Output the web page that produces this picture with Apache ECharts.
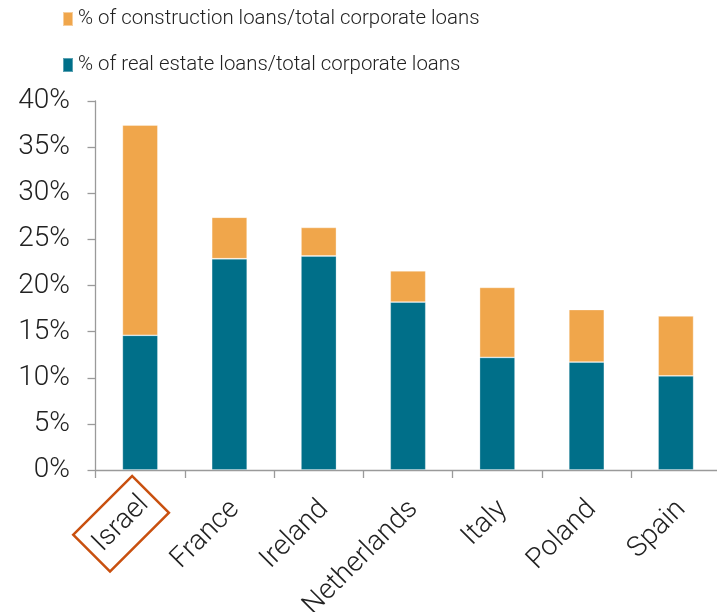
<!DOCTYPE html>
<html>
<head>
<meta charset="utf-8">
<script src="https://cdn.jsdelivr.net/npm/echarts@6/dist/echarts.min.js"></script>
<style>
  html, body { margin: 0; padding: 0; background: #ffffff; }
  #chart { width: 717px; height: 612px; }
</style>
</head>
<body>
<div id="chart"></div>
<script>
// Countries on the category axis
const countries = ['Israel', 'France', 'Ireland', 'Netherlands', 'Italy', 'Poland', 'Spain'];
// Share of real estate loans in total corporate loans (%)
const realEstateShare = [14.6, 22.9, 23.2, 18.2, 12.2, 11.7, 10.2];
// Share of construction loans in total corporate loans (%), stacked on top
const constructionShare = [22.8, 4.5, 3.1, 3.4, 7.6, 5.7, 6.5];
// Value axis ticks
const yTicks = [0, 5, 10, 15, 20, 25, 30, 35, 40];
// Country singled out with a frame around its label
const highlighted = 'Israel';

const seriesNames = {
  construction: '% of construction loans/total corporate loans',
  realEstate: '% of real estate loans/total corporate loans'
};

const FONT = 'Roboto';
const TEXT = '#222222';
const AXIS = '#9a9a9a';
const LABEL_SIZE = 28;

const chart = echarts.init(document.getElementById('chart'), null, { renderer: 'canvas' });

chart.setOption({
  animation: false,
  backgroundColor: '#ffffff',
  legend: {
    orient: 'vertical',
    left: 62,
    top: 7,
    padding: 0,
    itemWidth: 10,
    itemHeight: 14,
    itemGap: 22,
    icon: 'rect',
    data: [seriesNames.construction, seriesNames.realEstate],
    textStyle: { fontFamily: FONT, fontWeight: 300, fontSize: 20.4, lineHeight: 24, color: TEXT }
  },
  grid: {
    left: 95.5, top: 101, width: 625, bottom: 142,
    containLabel: false,
    outerBoundsMode: 'none'
  },
  xAxis: {
    type: 'category',
    data: countries,
    boundaryGap: true,
    axisLine: { lineStyle: { color: AXIS, width: 1.3 } },
    axisTick: { show: true, length: 8, lineStyle: { color: AXIS, width: 1.3 } },
    axisLabel: {
      interval: 0,
      rotate: 45,
      margin: 13.9,
      padding: [29.4, 0, 0, 0],
      fontFamily: FONT,
      fontWeight: 300,
      fontSize: LABEL_SIZE,
      lineHeight: 32,
      color: TEXT,
      formatter: (v) => v === highlighted ? '{hl|' + v + '}' : '{pl|' + v + '}',
      rich: {
        pl: {
          fontFamily: FONT,
          fontWeight: 300,
          fontSize: LABEL_SIZE,
          lineHeight: 32,
          color: TEXT,
          padding: [8.4, 11, 0, 0]
        },
        hl: {
          fontFamily: FONT,
          fontWeight: 300,
          fontSize: LABEL_SIZE,
          lineHeight: 32,
          color: TEXT,
          borderColor: '#c9500f',
          borderWidth: 2.5,
          padding: [12, 8.5, 12, 8.5]
        }
      }
    }
  },
  yAxis: {
    type: 'value',
    min: yTicks[0],
    max: yTicks[yTicks.length - 1],
    interval: yTicks[1] - yTicks[0],
    splitLine: { show: false },
    axisLine: { show: true, lineStyle: { color: AXIS, width: 1.3 } },
    axisTick: { show: true, length: 8, lineStyle: { color: AXIS, width: 1.3 } },
    axisLabel: {
      margin: 25.5,
      fontFamily: FONT,
      fontWeight: 300,
      fontSize: LABEL_SIZE,
      color: TEXT,
      formatter: '{value}%'
    }
  },
  series: [
    {
      name: seriesNames.realEstate,
      type: 'bar',
      stack: 'loans',
      barWidth: 35.5,
      data: realEstateShare,
      itemStyle: { color: '#006f89', borderColor: 'rgba(255,255,255,0.35)', borderWidth: 0.8 }
    },
    {
      name: seriesNames.construction,
      type: 'bar',
      stack: 'loans',
      barWidth: 35.5,
      data: constructionShare,
      itemStyle: { color: '#f0a64b', borderColor: 'rgba(255,255,255,0.45)', borderWidth: 0.8 }
    }
  ]
});
</script>
</body>
</html>
